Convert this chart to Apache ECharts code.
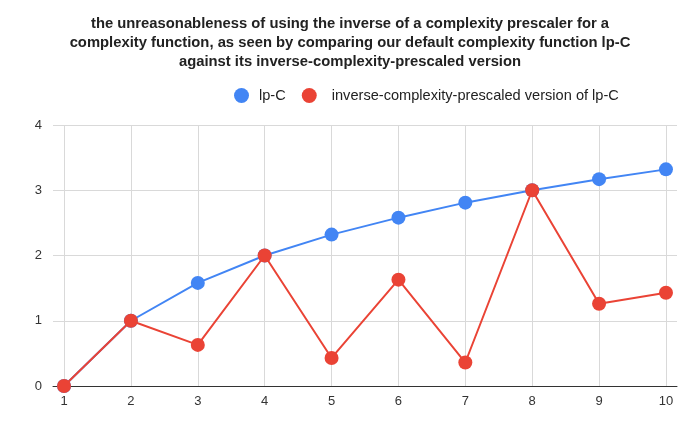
<!DOCTYPE html>
<html>
<head>
<meta charset="utf-8">
<script src="https://cdn.jsdelivr.net/npm/echarts@6/dist/echarts.min.js"></script>
<style>
  html, body { margin: 0; padding: 0; background: #fff; }
  #chart { width: 700px; height: 433px; }
</style>
</head>
<body>
<div id="chart"></div>
<script>
  // datos
  const xValues = [1, 2, 3, 4, 5, 6, 7, 8, 9, 10];
  const lpC = [0, 1, 1.58, 2, 2.32, 2.58, 2.81, 3, 3.17, 3.32];
  const inverseLpC = [0, 1, 0.63, 2, 0.43, 1.63, 0.36, 3, 1.26, 1.43];
  const yTicks = [0, 1, 2, 3, 4];

  const chart = echarts.init(document.getElementById('chart'));
  const font = 'Liberation Sans, Arial, sans-serif';

  const option = {
    animation: false,
    title: {
      text: 'the unreasonableness of using the inverse of a complexity prescaler for a\ncomplexity function, as seen by comparing our default complexity function lp-C\nagainst its inverse-complexity-prescaled version',
      left: 'center',
      top: 9,
      textStyle: {
        fontFamily: font,
        fontSize: 14.8,
        fontWeight: 'bold',
        color: '#222',
        lineHeight: 19
      }
    },
    legend: {
      top: 83,
      left: 229,
      icon: 'circle',
      itemWidth: 15,
      itemHeight: 15,
      itemGap: 16,
      textStyle: { fontFamily: font, fontSize: 14.6, color: '#222' },
      data: [
        { name: 'lp-C', textStyle: { padding: [0, 0, 0, 5] } },
        { name: 'inverse-complexity-prescaled version of lp-C', textStyle: { padding: [0, 0, 0, 10] } }
      ]
    },
    grid: { left: 53, right: 23, top: 125, bottom: 47 },
    xAxis: {
      type: 'value',
      min: 0.835,
      max: 10.165,
      axisLine: { show: true, lineStyle: { color: '#333', width: 1 } },
      axisTick: { show: false, customValues: xValues },
      axisLabel: {
        customValues: xValues,
        fontFamily: font,
        fontSize: 13,
        color: '#333',
        margin: 9
      },
      splitLine: { show: true, lineStyle: { color: '#d9d9d9', width: 1 } }
    },
    yAxis: {
      type: 'value',
      min: yTicks[0],
      max: yTicks[yTicks.length - 1],
      interval: 1,
      axisLine: { show: false },
      axisTick: { show: false },
      axisLabel: { fontFamily: font, fontSize: 13, color: '#333', margin: 11 },
      splitLine: { lineStyle: { color: '#d9d9d9', width: 1 } }
    },
    series: [
      {
        name: 'lp-C',
        type: 'line',
        data: xValues.map((x, i) => [x, lpC[i]]),
        symbol: 'circle',
        symbolSize: 14,
        itemStyle: { color: '#4285f4' },
        lineStyle: { color: '#4285f4', width: 2 },
        z: 2
      },
      {
        name: 'inverse-complexity-prescaled version of lp-C',
        type: 'line',
        data: xValues.map((x, i) => [x, inverseLpC[i]]),
        symbol: 'circle',
        symbolSize: 14,
        itemStyle: { color: '#ea4335' },
        lineStyle: { color: '#ea4335', width: 2 },
        z: 3
      }
    ]
  };

  chart.setOption(option);
</script>
</body>
</html>
